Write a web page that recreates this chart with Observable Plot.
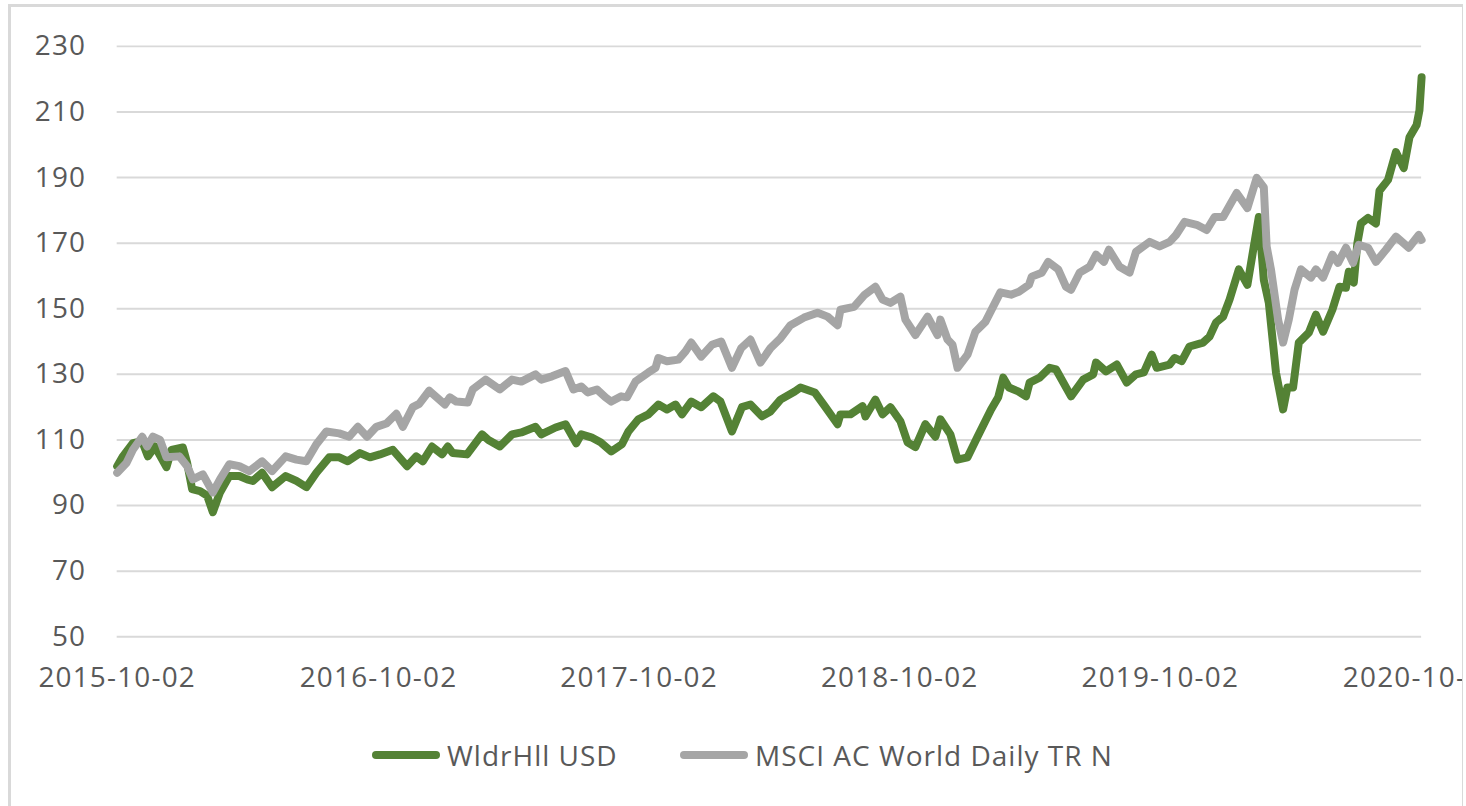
<!DOCTYPE html>
<html><head><meta charset="utf-8">
<script src="https://cdn.jsdelivr.net/npm/d3@7"></script>
<script src="https://cdn.jsdelivr.net/npm/@observablehq/plot@0.6"></script>
<style>
html,body{margin:0;padding:0;background:#fff;}
#frame{position:absolute;left:8px;top:4px;width:1455px;height:806px;border-left:3px solid #d9d9d9;border-top:3px solid #d9d9d9;border-right:1px solid #d9d9d9;overflow:hidden;box-sizing:border-box;background:#fff;}
#chart{position:absolute;left:-11px;top:-7px;}
.leg{position:absolute;font-family:"Open Sans",sans-serif;font-size:28px;letter-spacing:1px;color:#595959;line-height:40px;white-space:nowrap;}
.sw{position:absolute;height:8px;width:68px;border-radius:4px;}
</style>
</head><body>
<div id="frame"><div id="chart"></div>
<div id="legend"></div></div>
<script>
const seriesNames = ["WldrHll USD", "MSCI AC World Daily TR N"];
const seriesColors = ["#548235", "#a5a5a5"];
const yTicks = [50, 70, 90, 110, 130, 150, 170, 190, 210, 230];
const xTickLabels = ["2015-10-02", "2016-10-02", "2017-10-02", "2018-10-02", "2019-10-02", "2020-10-02"];

const greenDates = ["2015-10-02","2015-10-10","2015-10-24","2015-11-06","2015-11-14","2015-11-24","2015-12-10","2015-12-17","2016-01-02","2016-01-08","2016-01-15","2016-01-26","2016-02-05","2016-02-13","2016-02-23","2016-03-07","2016-03-21","2016-04-01","2016-04-09","2016-04-22","2016-05-06","2016-05-25","2016-06-09","2016-06-23","2016-07-07","2016-07-25","2016-08-08","2016-08-20","2016-09-06","2016-09-20","2016-10-04","2016-10-22","2016-11-11","2016-11-24","2016-12-03","2016-12-16","2016-12-30","2017-01-07","2017-01-14","2017-02-03","2017-02-24","2017-03-05","2017-03-21","2017-04-07","2017-04-20","2017-05-10","2017-05-18","2017-06-07","2017-06-21","2017-07-06","2017-07-13","2017-07-27","2017-08-09","2017-08-24","2017-09-08","2017-09-17","2017-10-01","2017-10-15","2017-10-29","2017-11-10","2017-11-22","2017-12-01","2017-12-14","2017-12-28","2018-01-14","2018-01-24","2018-02-09","2018-02-23","2018-03-07","2018-03-23","2018-04-04","2018-04-18","2018-05-08","2018-05-16","2018-06-05","2018-06-19","2018-07-07","2018-07-11","2018-07-25","2018-08-11","2018-08-15","2018-08-29","2018-09-08","2018-09-19","2018-10-03","2018-10-13","2018-10-24","2018-11-07","2018-11-21","2018-11-28","2018-12-12","2018-12-22","2019-01-05","2019-01-19","2019-02-07","2019-02-17","2019-02-24","2019-03-04","2019-03-17","2019-03-28","2019-04-02","2019-04-16","2019-04-30","2019-05-09","2019-05-30","2019-06-16","2019-06-30","2019-07-04","2019-07-18","2019-08-02","2019-08-16","2019-08-29","2019-09-09","2019-09-20","2019-09-27","2019-10-15","2019-10-22","2019-11-01","2019-11-12","2019-12-01","2019-12-10","2019-12-19","2019-12-29","2020-01-07","2020-01-20","2020-02-01","2020-02-10","2020-02-17","2020-02-24","2020-03-02","2020-03-12","2020-03-22","2020-03-28","2020-04-05","2020-04-13","2020-04-27","2020-05-07","2020-05-17","2020-05-30","2020-06-09","2020-06-18","2020-06-22","2020-06-29","2020-07-04","2020-07-09","2020-07-19","2020-07-30","2020-08-04","2020-08-16","2020-08-27","2020-09-07","2020-09-15","2020-09-25","2020-09-29","2020-10-02"];
const greenValues = [102,105,109,109.6,105,108,101.7,107,107.7,103,95,94.4,93,88,94,99,99,98,97.5,100,95.6,99,97.5,95.6,100,104.7,104.7,103.5,106,104.7,105.6,107,102,105,103.5,108,105.6,108,106,105.6,111.7,110,108,111.7,112.3,114,111.7,113.8,114.8,109,111.7,110.8,109.3,106.5,108.7,112.6,116.3,117.8,120.8,119.3,120.8,117.8,121.7,120,123.3,121.7,112.6,120,120.8,117.2,118.7,122.3,124.8,126,124.5,120.3,114.8,117.8,117.8,120.3,117.2,122.3,117.8,120,115.7,109.3,107.8,114.8,111,116.3,111.7,104,104.7,111,119.3,123,129,126,124.8,123.3,127.5,129,132,131.5,123.3,128.4,130,133.6,130.9,133,127.5,130,130.6,136,132,133,135,134,138.5,139.7,141.5,145.8,147.6,152.8,162,157.3,169,178,158.8,151.8,130.6,119.3,126,126,139.7,142.7,148.2,143,149.7,156.7,156.4,161.3,158,170,176,177.7,176,186,189.3,197.8,192.9,202.3,206,210.5,220.6];

const grayDates = ["2015-10-02","2015-10-15","2015-10-24","2015-11-06","2015-11-13","2015-11-21","2015-12-01","2015-12-10","2015-12-28","2016-01-08","2016-01-16","2016-01-30","2016-02-13","2016-02-23","2016-03-07","2016-03-21","2016-04-04","2016-04-22","2016-05-06","2016-05-25","2016-06-09","2016-06-23","2016-07-07","2016-07-21","2016-08-08","2016-08-22","2016-09-03","2016-09-16","2016-09-29","2016-10-13","2016-10-27","2016-11-05","2016-11-19","2016-11-28","2016-12-12","2017-01-03","2017-01-10","2017-01-19","2017-02-04","2017-02-11","2017-03-01","2017-03-21","2017-04-07","2017-04-20","2017-05-10","2017-05-18","2017-06-02","2017-06-21","2017-07-02","2017-07-13","2017-07-22","2017-08-04","2017-08-16","2017-08-24","2017-09-07","2017-09-15","2017-09-27","2017-10-15","2017-10-25","2017-10-29","2017-11-10","2017-11-26","2017-12-06","2017-12-14","2017-12-28","2018-01-12","2018-01-25","2018-02-09","2018-02-22","2018-03-07","2018-03-21","2018-04-04","2018-04-18","2018-05-02","2018-05-21","2018-06-09","2018-06-23","2018-07-07","2018-07-11","2018-07-30","2018-08-14","2018-08-29","2018-09-08","2018-09-19","2018-10-03","2018-10-10","2018-10-24","2018-11-10","2018-11-24","2018-11-28","2018-12-08","2018-12-15","2018-12-22","2019-01-05","2019-01-16","2019-01-30","2019-02-20","2019-03-07","2019-03-18","2019-04-01","2019-04-05","2019-04-19","2019-04-28","2019-05-12","2019-05-23","2019-05-30","2019-06-11","2019-06-25","2019-07-04","2019-07-15","2019-07-22","2019-08-06","2019-08-20","2019-08-29","2019-09-17","2019-10-01","2019-10-15","2019-10-24","2019-11-05","2019-11-22","2019-12-06","2019-12-17","2019-12-29","2020-01-17","2020-02-01","2020-02-14","2020-02-24","2020-02-28","2020-03-05","2020-03-15","2020-03-22","2020-03-30","2020-04-07","2020-04-16","2020-04-30","2020-05-07","2020-05-17","2020-05-30","2020-06-07","2020-06-18","2020-06-28","2020-07-06","2020-07-19","2020-07-30","2020-08-13","2020-08-27","2020-09-14","2020-09-28","2020-10-02"];
const grayValues = [100,103,107,111,108,111,110,104.7,105,102,98,99.5,94,98,102.6,102,100.5,103.5,100.5,105,104,103.5,108.7,112.6,112,111,114,111,114,115,118,114,120,121,125,120.8,123,121.7,121.4,125.4,128.4,125.4,128.4,127.8,130,128.4,129.4,131,125.4,126.3,124.5,125.4,123,121.7,123.3,123,127.8,130.6,132,135,134,134.5,137,139.7,135.4,139,140,132,138,140.6,133.6,138,141,145,147.3,148.8,147.6,145,149.7,150.6,154.3,156.7,152.8,151.8,153.7,146.7,142,147.6,142,146.7,140.6,139,132,136,143,146,155,154.3,155.2,157.3,159.8,161,164.3,162,156.7,155.8,161,162.8,166.5,164.3,168,162.8,161,167.4,170.4,169,170.4,172.5,176.5,175.6,174,178,178,185.3,180.7,189.9,187,169,162,146.7,139.7,146.7,155.8,162,159.5,162,159.5,166.5,164,168.6,164,169.5,168.6,164.3,168,172,168.6,172.5,171];

const parse = d3.utcParse("%Y-%m-%d");
const green = greenDates.map((d, i) => ({date: parse(d), value: greenValues[i]}));
const gray = grayDates.map((d, i) => ({date: parse(d), value: grayValues[i]}));
const xTicks = xTickLabels.map(parse);

const chart = Plot.plot({
  width: 1466,
  height: 720,
  marginLeft: 117,
  marginRight: 41,
  marginTop: 46,
  marginBottom: 82,
  style: {fontFamily: "'Open Sans', sans-serif", fontSize: "28px", color: "#595959", letterSpacing: "1.2px", background: "transparent", overflow: "visible"},
  x: {type: "utc", domain: [xTicks[0], xTicks[xTicks.length - 1]]},
  y: {domain: [50, 230]},
  marks: [
    Plot.gridY(yTicks, {stroke: "#d9d9d9", strokeOpacity: 1, strokeWidth: 2}),
    Plot.axisY(yTicks, {tickSize: 0, tickPadding: 31, label: null}),
    Plot.axisX(xTicks, {tickSize: 0, tickPadding: 31, tickFormat: d3.utcFormat("%Y-%m-%d"), label: null}),
    Plot.line(green, {x: "date", y: "value", stroke: seriesColors[0], strokeWidth: 8, strokeLinejoin: "round", strokeLinecap: "round"}),
    Plot.line(gray, {x: "date", y: "value", stroke: seriesColors[1], strokeWidth: 8, strokeLinejoin: "round", strokeLinecap: "round"})
  ]
});
document.getElementById("chart").appendChild(chart);

const legend = document.getElementById("legend");
const legendPos = [{sw: 372, tx: 447}, {sw: 680, tx: 755}];
seriesNames.forEach((name, i) => {
  const sw = document.createElement("div");
  sw.className = "sw";
  sw.style.left = (legendPos[i].sw - 11) + "px";
  sw.style.top = (751 - 7) + "px";
  sw.style.background = seriesColors[i];
  legend.appendChild(sw);
  const t = document.createElement("div");
  t.className = "leg";
  t.style.left = (legendPos[i].tx - 11) + "px";
  t.style.top = (735 - 7) + "px";
  t.textContent = name;
  legend.appendChild(t);
});
</script>
</body></html>
